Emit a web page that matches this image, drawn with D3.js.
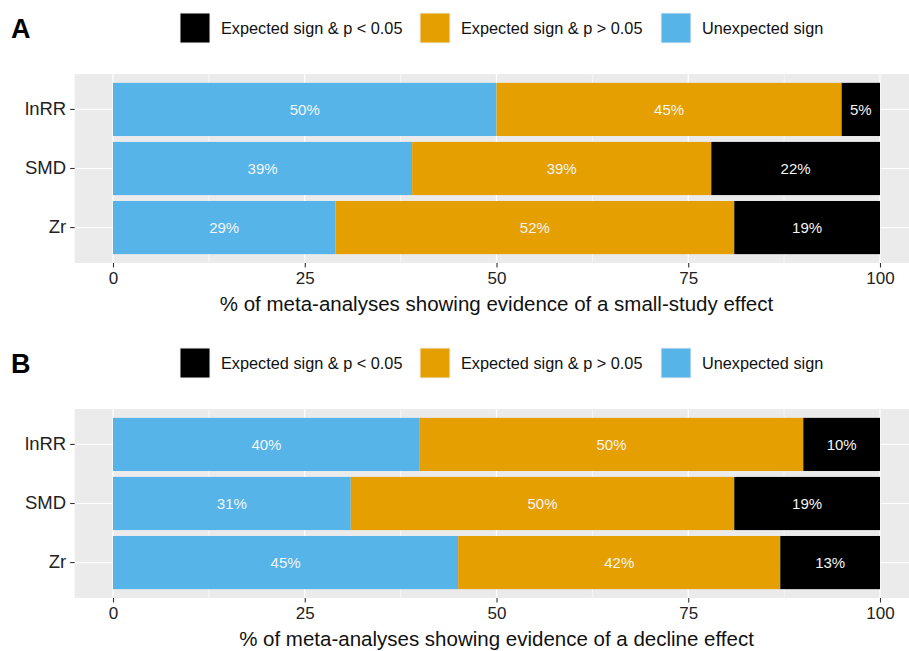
<!DOCTYPE html>
<html>
<head>
<meta charset="utf-8">
<script src="https://cdn.jsdelivr.net/npm/d3@7"></script>
<style>
  html, body { margin: 0; padding: 0; background: #ffffff; }
  svg { display: block; font-family: "Liberation Sans", Arial, Helvetica, sans-serif; }
</style>
</head>
<body>
<svg id="chart" width="909" height="651"></svg>
<script>
// Effect-size metrics (top to bottom)
const metrics = ["lnRR", "SMD", "Zr"];

// Outcome categories, in stacking order from the left
const categories = ["Unexpected sign", "Expected sign & p > 0.05", "Expected sign & p < 0.05"];
const legendOrder = ["Expected sign & p < 0.05", "Expected sign & p > 0.05", "Unexpected sign"];
const categoryColors = ["#56B4E9", "#E69F00", "#000000"];

// Panel A: small-study effect (% of meta-analyses)
const smallStudyUnexpected = [50, 39, 29];
const smallStudyNonSig     = [45, 39, 52];
const smallStudySig        = [5, 22, 19];

// Panel B: decline effect (% of meta-analyses)
const declineUnexpected = [40, 31, 45];
const declineNonSig     = [50, 50, 42];
const declineSig        = [10, 19, 13];

const xTicks = [0, 25, 50, 75, 100];
const xMinorTicks = [12.5, 37.5, 62.5, 87.5];

const svg = d3.select("#chart");
const color = d3.scaleOrdinal().domain(categories).range(categoryColors);

function buildRows(unexp, nonsig, sig) {
  return metrics.map((m, i) => ({
    metric: m,
    [categories[0]]: unexp[i],
    [categories[1]]: nonsig[i],
    [categories[2]]: sig[i]
  }));
}

function drawPanel(offsetY, letter, rows, title) {
  const g = svg.append("g").attr("transform", `translate(0,${offsetY})`);

  const x = d3.scaleLinear().domain([0, 100]).range([113, 880]);
  const y = d3.scaleBand().domain(metrics).range([74, 263])
    .paddingInner(0.1).paddingOuter(0.15);

  const px0 = x(-5), px1 = x(105);

  // panel background
  g.append("rect")
    .attr("x", px0).attr("y", 74)
    .attr("width", px1 - px0).attr("height", 263 - 74)
    .attr("fill", "#EBEBEB");

  // minor grid
  g.selectAll(".minor").data(xMinorTicks).join("line")
    .attr("x1", d => x(d)).attr("x2", d => x(d))
    .attr("y1", 74).attr("y2", 263)
    .attr("stroke", "#ffffff").attr("stroke-width", 0.6);

  // major grid
  g.selectAll(".majorx").data(xTicks).join("line")
    .attr("x1", d => x(d)).attr("x2", d => x(d))
    .attr("y1", 74).attr("y2", 263)
    .attr("stroke", "#ffffff").attr("stroke-width", 1.2);
  g.selectAll(".majory").data(metrics).join("line")
    .attr("x1", px0).attr("x2", px1)
    .attr("y1", d => y(d) + y.bandwidth() / 2).attr("y2", d => y(d) + y.bandwidth() / 2)
    .attr("stroke", "#ffffff").attr("stroke-width", 1.2);

  // stacked bars
  const series = d3.stack().keys(categories)(rows);
  const layer = g.selectAll(".layer").data(series).join("g")
    .attr("fill", d => color(d.key));
  layer.selectAll("rect").data(d => d).join("rect")
    .attr("x", d => x(d[0]))
    .attr("width", d => x(d[1]) - x(d[0]))
    .attr("y", d => y(d.data.metric))
    .attr("height", y.bandwidth());

  // value labels
  series.forEach(s => {
    g.selectAll(null).data(s).join("text")
      .attr("x", d => x((d[0] + d[1]) / 2))
      .attr("y", d => y(d.data.metric) + y.bandwidth() / 2)
      .attr("dy", "0.35em")
      .attr("text-anchor", "middle")
      .attr("fill", "#f4f4f4")
      .attr("font-size", 15)
      .text(d => `${d[1] - d[0]}%`);
  });

  // x axis
  const xAxis = g.append("g").attr("transform", "translate(0,263)")
    .call(d3.axisBottom(x).tickValues(xTicks).tickSize(4.5).tickPadding(4));
  xAxis.select(".domain").remove();
  xAxis.selectAll("line").attr("stroke", "#333333").attr("stroke-width", 1.1);
  xAxis.selectAll("text").attr("fill", "#222222").attr("font-size", 17)
    .attr("font-family", "Liberation Sans, Arial, sans-serif");

  // y axis
  const yAxis = g.append("g").attr("transform", `translate(${px0},0)`)
    .call(d3.axisLeft(y).tickSize(4.5).tickPadding(4));
  yAxis.select(".domain").remove();
  yAxis.selectAll("line").attr("stroke", "#333333").attr("stroke-width", 1.1);
  yAxis.selectAll("text").attr("fill", "#222222").attr("font-size", 18.5)
    .attr("font-family", "Liberation Sans, Arial, sans-serif");

  // x axis title
  g.append("text")
    .attr("x", (x(0) + x(100)) / 2)
    .attr("y", 304).attr("dy", "0.35em")
    .attr("text-anchor", "middle")
    .attr("fill", "#111111")
    .attr("font-size", 20.5)
    .text(title);

  // panel letter
  g.append("text")
    .attr("x", 11).attr("y", 29).attr("dy", "0.35em")
    .attr("font-size", 27).attr("font-weight", "bold")
    .attr("fill", "#000000")
    .text(letter);

  // legend
  const legendX = [180, 420, 661];
  const lg = g.selectAll(".legend").data(legendOrder).join("g")
    .attr("transform", (d, i) => `translate(${legendX[i]},13)`);
  lg.append("rect")
    .attr("width", 30).attr("height", 30)
    .attr("fill", d => color(d))
    .attr("stroke", "#f2f2f2").attr("stroke-width", 1);
  lg.append("text")
    .attr("x", 41).attr("y", 15).attr("dy", "0.35em")
    .attr("font-size", 16.3).attr("fill", "#111111")
    .text(d => d);
}

drawPanel(0, "A", buildRows(smallStudyUnexpected, smallStudyNonSig, smallStudySig),
  "% of meta-analyses showing evidence of a small-study effect");
drawPanel(335, "B", buildRows(declineUnexpected, declineNonSig, declineSig),
  "% of meta-analyses showing evidence of a decline effect");
</script>
</body>
</html>
